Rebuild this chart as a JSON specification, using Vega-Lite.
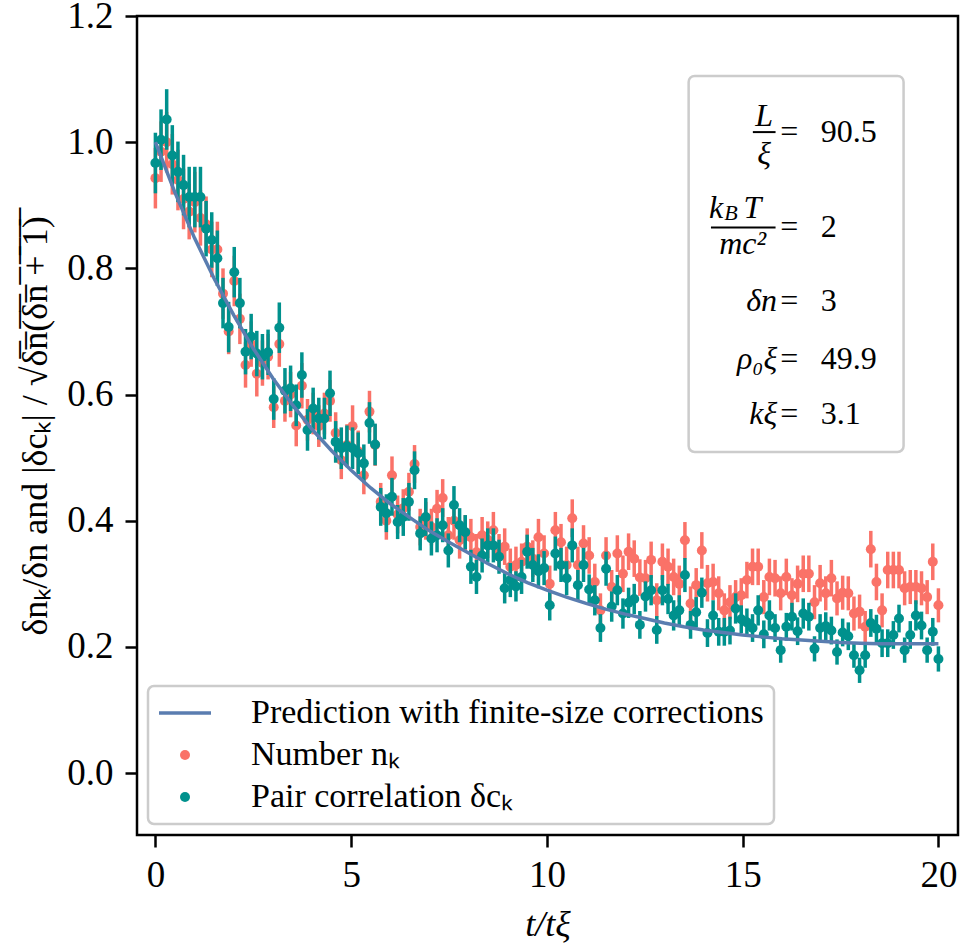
{
  "$schema": "https://vega.github.io/schema/vega-lite/v6.json",
  "width": 821,
  "height": 819,
  "autosize": {"type": "none"},
  "padding": {"left": 137, "top": 16, "right": 6, "bottom": 113},
  "background": "white",
  "config": {
    "view": {"stroke": "black", "strokeWidth": 2.5},
    "font": "Liberation Serif",
    "axis": {"domain": false, "grid": false, "ticks": true, "tickColor": "black", "tickWidth": 2.5, "tickSize": 12, "labelColor": "black", "labelFont": "Liberation Serif", "labelFontSize": 37, "titleColor": "black", "titleFont": "Liberation Serif", "titleFontWeight": "normal"},
    "axisX": {"labelPadding": 10, "titleFontSize": 36, "titleFontStyle": "italic", "titlePadding": 14},
    "axisY": {"labelPadding": 12, "titleFontSize": 36, "titlePadding": 12},
    "legend": {
      "orient": "bottom-left", "offset": 11, "title": null,
      "labelFont": "Liberation Serif", "labelFontSize": 34, "labelColor": "black", "labelLimit": 0,
      "labelOffset": 59, "rowPadding": 8, "padding": 10,
      "strokeColor": "#cccccc", "fillColor": "white", "cornerRadius": 6,
      "symbolSize": 900, "symbolStrokeWidth": 3.5
    }
  },
  "datasets": {
    "obs": [
      {"t":0,"n":0.943,"c":0.967,"en":0.048,"ec":0.048},
      {"t":0.144,"n":0.985,"c":1.004,"en":0.048,"ec":0.048},
      {"t":0.288,"n":1.0,"c":1.036,"en":0.048,"ec":0.048},
      {"t":0.432,"n":0.965,"c":0.979,"en":0.048,"ec":0.048},
      {"t":0.576,"n":0.94,"c":0.953,"en":0.048,"ec":0.048},
      {"t":0.719,"n":0.91,"c":0.932,"en":0.048,"ec":0.048},
      {"t":0.863,"n":0.89,"c":0.913,"en":0.044,"ec":0.048},
      {"t":1.007,"n":0.905,"c":0.913,"en":0.048,"ec":0.048},
      {"t":1.151,"n":0.88,"c":0.913,"en":0.044,"ec":0.048},
      {"t":1.295,"n":0.87,"c":0.863,"en":0.044,"ec":0.044},
      {"t":1.439,"n":0.83,"c":0.845,"en":0.044,"ec":0.044},
      {"t":1.583,"n":0.83,"c":0.816,"en":0.044,"ec":0.044},
      {"t":1.727,"n":0.76,"c":0.745,"en":0.04,"ec":0.04},
      {"t":1.871,"n":0.7,"c":0.707,"en":0.036,"ec":0.04},
      {"t":2.014,"n":0.78,"c":0.794,"en":0.04,"ec":0.04},
      {"t":2.158,"n":0.72,"c":0.745,"en":0.04,"ec":0.04},
      {"t":2.302,"n":0.647,"c":0.668,"en":0.036,"ec":0.036},
      {"t":2.446,"n":0.68,"c":0.692,"en":0.036,"ec":0.036},
      {"t":2.59,"n":0.633,"c":0.665,"en":0.036,"ec":0.036},
      {"t":2.734,"n":0.65,"c":0.66,"en":0.036,"ec":0.036},
      {"t":2.878,"n":0.66,"c":0.667,"en":0.036,"ec":0.036},
      {"t":3.022,"n":0.58,"c":0.593,"en":0.033,"ec":0.033},
      {"t":3.165,"n":0.68,"c":0.706,"en":0.036,"ec":0.04},
      {"t":3.309,"n":0.59,"c":0.606,"en":0.033,"ec":0.036},
      {"t":3.453,"n":0.6,"c":0.61,"en":0.036,"ec":0.036},
      {"t":3.597,"n":0.551,"c":0.583,"en":0.033,"ec":0.033},
      {"t":3.741,"n":0.614,"c":0.631,"en":0.036,"ec":0.036},
      {"t":3.885,"n":0.56,"c":0.544,"en":0.033,"ec":0.033},
      {"t":4.029,"n":0.57,"c":0.578,"en":0.033,"ec":0.033},
      {"t":4.173,"n":0.55,"c":0.562,"en":0.033,"ec":0.033},
      {"t":4.317,"n":0.57,"c":0.562,"en":0.033,"ec":0.033},
      {"t":4.46,"n":0.59,"c":0.602,"en":0.033,"ec":0.036},
      {"t":4.604,"n":0.539,"c":0.525,"en":0.033,"ec":0.033},
      {"t":4.748,"n":0.496,"c":0.515,"en":0.03,"ec":0.033},
      {"t":4.892,"n":0.52,"c":0.518,"en":0.033,"ec":0.033},
      {"t":5.036,"n":0.55,"c":0.515,"en":0.033,"ec":0.033},
      {"t":5.18,"n":0.51,"c":0.507,"en":0.033,"ec":0.033},
      {"t":5.324,"n":0.472,"c":0.491,"en":0.03,"ec":0.03},
      {"t":5.468,"n":0.573,"c":0.555,"en":0.033,"ec":0.033},
      {"t":5.612,"n":0.52,"c":0.521,"en":0.033,"ec":0.033},
      {"t":5.755,"n":0.43,"c":0.422,"en":0.03,"ec":0.03},
      {"t":5.899,"n":0.4,"c":0.412,"en":0.03,"ec":0.03},
      {"t":6.043,"n":0.472,"c":0.438,"en":0.03,"ec":0.03},
      {"t":6.187,"n":0.41,"c":0.398,"en":0.03,"ec":0.027},
      {"t":6.331,"n":0.42,"c":0.406,"en":0.03,"ec":0.03},
      {"t":6.475,"n":0.446,"c":0.43,"en":0.03,"ec":0.03},
      {"t":6.619,"n":0.49,"c":0.48,"en":0.03,"ec":0.03},
      {"t":6.763,"n":0.39,"c":0.38,"en":0.029,"ec":0.027},
      {"t":6.906,"n":0.4,"c":0.406,"en":0.03,"ec":0.03},
      {"t":7.05,"n":0.39,"c":0.372,"en":0.029,"ec":0.027},
      {"t":7.194,"n":0.419,"c":0.377,"en":0.03,"ec":0.027},
      {"t":7.338,"n":0.436,"c":0.393,"en":0.03,"ec":0.027},
      {"t":7.482,"n":0.377,"c":0.353,"en":0.029,"ec":0.027},
      {"t":7.626,"n":0.4,"c":0.425,"en":0.03,"ec":0.03},
      {"t":7.77,"n":0.369,"c":0.393,"en":0.029,"ec":0.027},
      {"t":7.914,"n":0.38,"c":0.382,"en":0.029,"ec":0.027},
      {"t":8.058,"n":0.374,"c":0.327,"en":0.029,"ec":0.027},
      {"t":8.201,"n":0.35,"c":0.311,"en":0.029,"ec":0.027},
      {"t":8.345,"n":0.377,"c":0.345,"en":0.029,"ec":0.027},
      {"t":8.489,"n":0.37,"c":0.361,"en":0.029,"ec":0.027},
      {"t":8.633,"n":0.385,"c":0.361,"en":0.029,"ec":0.027},
      {"t":8.777,"n":0.35,"c":0.343,"en":0.029,"ec":0.027},
      {"t":8.921,"n":0.359,"c":0.293,"en":0.029,"ec":0.024},
      {"t":9.065,"n":0.327,"c":0.306,"en":0.029,"ec":0.027},
      {"t":9.209,"n":0.33,"c":0.296,"en":0.029,"ec":0.024},
      {"t":9.353,"n":0.335,"c":0.311,"en":0.029,"ec":0.027},
      {"t":9.496,"n":0.359,"c":0.351,"en":0.029,"ec":0.027},
      {"t":9.64,"n":0.34,"c":0.33,"en":0.029,"ec":0.027},
      {"t":9.784,"n":0.374,"c":0.32,"en":0.029,"ec":0.027},
      {"t":9.928,"n":0.348,"c":0.325,"en":0.029,"ec":0.027},
      {"t":10.072,"n":0.3,"c":0.266,"en":0.029,"ec":0.024},
      {"t":10.216,"n":0.385,"c":0.348,"en":0.029,"ec":0.027},
      {"t":10.36,"n":0.366,"c":0.33,"en":0.029,"ec":0.027},
      {"t":10.504,"n":0.33,"c":0.309,"en":0.029,"ec":0.027},
      {"t":10.647,"n":0.404,"c":0.361,"en":0.03,"ec":0.027},
      {"t":10.791,"n":0.33,"c":0.298,"en":0.029,"ec":0.024},
      {"t":10.935,"n":0.364,"c":0.33,"en":0.029,"ec":0.027},
      {"t":11.079,"n":0.345,"c":0.291,"en":0.029,"ec":0.024},
      {"t":11.223,"n":0.303,"c":0.274,"en":0.029,"ec":0.024},
      {"t":11.367,"n":0.258,"c":0.23,"en":0.027,"ec":0.022},
      {"t":11.511,"n":0.345,"c":0.324,"en":0.029,"ec":0.027},
      {"t":11.655,"n":0.295,"c":0.264,"en":0.027,"ec":0.024},
      {"t":11.799,"n":0.348,"c":0.29,"en":0.029,"ec":0.024},
      {"t":11.942,"n":0.316,"c":0.253,"en":0.029,"ec":0.024},
      {"t":12.086,"n":0.351,"c":0.27,"en":0.029,"ec":0.024},
      {"t":12.23,"n":0.34,"c":0.276,"en":0.029,"ec":0.024},
      {"t":12.374,"n":0.31,"c":0.235,"en":0.029,"ec":0.022},
      {"t":12.518,"n":0.309,"c":0.28,"en":0.029,"ec":0.024},
      {"t":12.662,"n":0.338,"c":0.29,"en":0.029,"ec":0.024},
      {"t":12.806,"n":0.274,"c":0.227,"en":0.027,"ec":0.022},
      {"t":12.95,"n":0.335,"c":0.29,"en":0.029,"ec":0.024},
      {"t":13.094,"n":0.327,"c":0.276,"en":0.029,"ec":0.024},
      {"t":13.237,"n":0.311,"c":0.25,"en":0.029,"ec":0.024},
      {"t":13.381,"n":0.3,"c":0.258,"en":0.029,"ec":0.024},
      {"t":13.525,"n":0.369,"c":0.314,"en":0.029,"ec":0.027},
      {"t":13.669,"n":0.269,"c":0.235,"en":0.027,"ec":0.022},
      {"t":13.813,"n":0.298,"c":0.255,"en":0.027,"ec":0.024},
      {"t":13.957,"n":0.353,"c":0.286,"en":0.029,"ec":0.024},
      {"t":14.101,"n":0.301,"c":0.222,"en":0.029,"ec":0.022},
      {"t":14.245,"n":0.303,"c":0.25,"en":0.029,"ec":0.024},
      {"t":14.388,"n":0.285,"c":0.224,"en":0.027,"ec":0.022},
      {"t":14.532,"n":0.258,"c":0.224,"en":0.027,"ec":0.022},
      {"t":14.676,"n":0.271,"c":0.226,"en":0.027,"ec":0.022},
      {"t":14.82,"n":0.279,"c":0.261,"en":0.027,"ec":0.024},
      {"t":14.964,"n":0.282,"c":0.244,"en":0.027,"ec":0.022},
      {"t":15.108,"n":0.306,"c":0.239,"en":0.029,"ec":0.022},
      {"t":15.252,"n":0.327,"c":0.23,"en":0.029,"ec":0.022},
      {"t":15.396,"n":0.327,"c":0.258,"en":0.029,"ec":0.024},
      {"t":15.54,"n":0.279,"c":0.22,"en":0.027,"ec":0.022},
      {"t":15.683,"n":0.311,"c":0.25,"en":0.029,"ec":0.024},
      {"t":15.827,"n":0.309,"c":0.23,"en":0.029,"ec":0.022},
      {"t":15.971,"n":0.285,"c":0.195,"en":0.027,"ec":0.02},
      {"t":16.115,"n":0.311,"c":0.232,"en":0.029,"ec":0.022},
      {"t":16.259,"n":0.282,"c":0.248,"en":0.027,"ec":0.022},
      {"t":16.403,"n":0.3,"c":0.225,"en":0.029,"ec":0.022},
      {"t":16.547,"n":0.316,"c":0.253,"en":0.029,"ec":0.024},
      {"t":16.691,"n":0.316,"c":0.248,"en":0.029,"ec":0.022},
      {"t":16.835,"n":0.271,"c":0.197,"en":0.027,"ec":0.02},
      {"t":16.978,"n":0.301,"c":0.23,"en":0.029,"ec":0.022},
      {"t":17.122,"n":0.285,"c":0.233,"en":0.027,"ec":0.022},
      {"t":17.266,"n":0.309,"c":0.226,"en":0.029,"ec":0.022},
      {"t":17.41,"n":0.277,"c":0.192,"en":0.027,"ec":0.02},
      {"t":17.554,"n":0.286,"c":0.223,"en":0.027,"ec":0.022},
      {"t":17.698,"n":0.285,"c":0.217,"en":0.027,"ec":0.022},
      {"t":17.842,"n":0.253,"c":0.187,"en":0.027,"ec":0.02},
      {"t":17.986,"n":0.256,"c":0.163,"en":0.027,"ec":0.02},
      {"t":18.129,"n":0.232,"c":0.187,"en":0.025,"ec":0.02},
      {"t":18.273,"n":0.355,"c":0.238,"en":0.029,"ec":0.022},
      {"t":18.417,"n":0.303,"c":0.229,"en":0.029,"ec":0.022},
      {"t":18.561,"n":0.258,"c":0.206,"en":0.027,"ec":0.022},
      {"t":18.705,"n":0.322,"c":0.206,"en":0.029,"ec":0.022},
      {"t":18.849,"n":0.322,"c":0.219,"en":0.029,"ec":0.022},
      {"t":18.993,"n":0.322,"c":0.245,"en":0.029,"ec":0.022},
      {"t":19.137,"n":0.293,"c":0.195,"en":0.027,"ec":0.02},
      {"t":19.281,"n":0.295,"c":0.219,"en":0.027,"ec":0.022},
      {"t":19.424,"n":0.295,"c":0.25,"en":0.027,"ec":0.024},
      {"t":19.568,"n":0.293,"c":0.234,"en":0.027,"ec":0.022},
      {"t":19.712,"n":0.279,"c":0.195,"en":0.027,"ec":0.02},
      {"t":19.856,"n":0.335,"c":0.224,"en":0.029,"ec":0.022},
      {"t":20.0,"n":0.266,"c":0.181,"en":0.027,"ec":0.02}
    ],
    "pred": [
      {"t":0,"p":1.0},{"t":0.5,"p":0.92},{"t":1,"p":0.848},{"t":1.5,"p":0.784},{"t":2,"p":0.726},
      {"t":2.5,"p":0.673},{"t":3,"p":0.626},{"t":3.5,"p":0.584},{"t":4,"p":0.545},{"t":4.5,"p":0.511},
      {"t":5,"p":0.48},{"t":5.5,"p":0.452},{"t":6,"p":0.427},{"t":6.5,"p":0.405},{"t":7,"p":0.384},
      {"t":7.5,"p":0.366},{"t":8,"p":0.349},{"t":8.5,"p":0.332},{"t":9,"p":0.316},{"t":9.5,"p":0.302},
      {"t":10,"p":0.29},{"t":10.5,"p":0.279},{"t":11,"p":0.269},{"t":11.5,"p":0.26},{"t":12,"p":0.252},
      {"t":12.5,"p":0.245},{"t":13,"p":0.238},{"t":13.5,"p":0.232},{"t":14,"p":0.227},{"t":14.5,"p":0.223},
      {"t":15,"p":0.219},{"t":15.5,"p":0.216},{"t":16,"p":0.213},{"t":16.5,"p":0.211},{"t":17,"p":0.209},
      {"t":17.5,"p":0.207},{"t":18,"p":0.206},{"t":18.5,"p":0.205},{"t":19,"p":0.205},{"t":19.5,"p":0.205},
      {"t":20,"p":0.205}
    ],
    "box": [{"t":13.62,"t2":19.11,"y":1.105,"y2":0.509}],
    "bars": [{"t":15.26,"t2":15.84,"y":1.016},{"t":14.19,"t2":15.84,"y":0.865}],
    "ann": [
      {"kind":"ic","t":15.55,"y":1.042,"text":"L"},
      {"kind":"ic","t":15.55,"y":0.982,"text":"ξ"},
      {"kind":"ul","t":15.96,"y":1.016,"text":"=\u2002\u200990.5"},
      {"kind":"ic","t":14.32,"y":0.896,"text":"k"},
      {"kind":"sc","t":14.7,"y":0.888,"text":"B"},
      {"kind":"ic","t":15.25,"y":0.896,"text":"T"},
      {"kind":"ic","t":15.0,"y":0.838,"text":"mc²"},
      {"kind":"ul","t":15.96,"y":0.865,"text":"=\u2002\u20092"},
      {"kind":"ir","t":15.88,"y":0.749,"text":"δn"},
      {"kind":"ul","t":15.96,"y":0.749,"text":"=\u2002\u20093"},
      {"kind":"ir","t":15.88,"y":0.657,"text":"ρ₀ξ"},
      {"kind":"ul","t":15.96,"y":0.657,"text":"=\u2002\u200949.9"},
      {"kind":"ir","t":15.88,"y":0.57,"text":"kξ"},
      {"kind":"ul","t":15.96,"y":0.57,"text":"=\u2002\u20093.1"}
    ]
  },
  "encoding": {
    "x": {"field": "t", "type": "quantitative", "scale": {"domain": [-0.47, 20.5], "nice": false, "zero": false}, "axis": {"values": [0, 5, 10, 15, 20], "title": "t/tξ"}}
  },
  "layer": [
    {
      "data": {"name": "obs"},
      "mark": {"type": "errorbar", "ticks": false, "thickness": 3.5, "color": "#FA7268"},
      "encoding": {
        "y": {"field": "n", "type": "quantitative", "scale": {"domain": [-0.098, 1.2], "nice": false, "zero": false}, "axis": {"values": [0, 0.2, 0.4, 0.6, 0.8, 1.0, 1.2], "format": ".1f"}, "title": "δnₖ/δn and |δcₖ| / √δ̅n̅(̅δ̅n̅ ̅+̅ ̅1̅)̅"},
        "yError": {"field": "en"}
      }
    },
    {
      "data": {"name": "obs"},
      "mark": {"type": "point", "filled": true, "size": 100, "opacity": 1},
      "encoding": {
        "y": {"field": "n", "type": "quantitative", "title": "δnₖ/δn and |δcₖ| / √δ̅n̅(̅δ̅n̅ ̅+̅ ̅1̅)̅"},
        "color": {
          "datum": "Number nₖ",
          "type": "nominal",
          "scale": {"domain": ["Prediction with finite-size corrections", "Number nₖ", "Pair correlation δcₖ"], "range": ["#5A7DB0", "#FA7268", "#00918D"]},
          "legend": {
            "encode": {
              "legend": {"update": {"strokeWidth": {"value": 2.5}}},
              "symbols": {"update": {
                "shape": {"signal": "datum.index === 0 ? 'stroke' : 'circle'"},
                "size": {"signal": "datum.index === 0 ? 2704 : 100"},
                "strokeWidth": {"signal": "datum.index === 0 ? 3.5 : 0"},
                "stroke": {"signal": "scale('color', datum.value)"},
                "fill": {"signal": "datum.index === 0 ? 'transparent' : scale('color', datum.value)"},
                "opacity": {"value": 1},
                "x": {"value": 27}
              }}
            }
          }
        }
      }
    },
    {
      "data": {"name": "obs"},
      "mark": {"type": "errorbar", "ticks": false, "thickness": 3.5, "color": "#00918D"},
      "encoding": {
        "y": {"field": "c", "type": "quantitative", "title": "δnₖ/δn and |δcₖ| / √δ̅n̅(̅δ̅n̅ ̅+̅ ̅1̅)̅"},
        "yError": {"field": "ec"}
      }
    },
    {
      "data": {"name": "obs"},
      "mark": {"type": "point", "filled": true, "size": 100, "opacity": 1},
      "encoding": {
        "y": {"field": "c", "type": "quantitative", "title": "δnₖ/δn and |δcₖ| / √δ̅n̅(̅δ̅n̅ ̅+̅ ̅1̅)̅"},
        "color": {
          "datum": "Pair correlation δcₖ", "type": "nominal",
          "legend": {
            "encode": {
              "legend": {"update": {"strokeWidth": {"value": 2.5}}},
              "symbols": {"update": {
                "shape": {"signal": "datum.index === 0 ? 'stroke' : 'circle'"},
                "size": {"signal": "datum.index === 0 ? 2704 : 100"},
                "strokeWidth": {"signal": "datum.index === 0 ? 3.5 : 0"},
                "stroke": {"signal": "scale('color', datum.value)"},
                "fill": {"signal": "datum.index === 0 ? 'transparent' : scale('color', datum.value)"},
                "opacity": {"value": 1},
                "x": {"value": 27}
              }}
            }
          }
        }
      }
    },
    {
      "data": {"name": "pred"},
      "mark": {"type": "line", "strokeWidth": 3.5},
      "encoding": {
        "y": {"field": "p", "type": "quantitative", "title": "δnₖ/δn and |δcₖ| / √δ̅n̅(̅δ̅n̅ ̅+̅ ̅1̅)̅"},
        "color": {
          "datum": "Prediction with finite-size corrections", "type": "nominal",
          "legend": {
            "encode": {
              "legend": {"update": {"strokeWidth": {"value": 2.5}}},
              "symbols": {"update": {
                "shape": {"signal": "datum.index === 0 ? 'stroke' : 'circle'"},
                "size": {"signal": "datum.index === 0 ? 2704 : 100"},
                "strokeWidth": {"signal": "datum.index === 0 ? 3.5 : 0"},
                "stroke": {"signal": "scale('color', datum.value)"},
                "fill": {"signal": "datum.index === 0 ? 'transparent' : scale('color', datum.value)"},
                "opacity": {"value": 1},
                "x": {"value": 27}
              }}
            }
          }
        }
      }
    },
    {
      "data": {"name": "box"},
      "mark": {"type": "rect", "fill": "white", "stroke": "#cccccc", "strokeWidth": 2.5, "cornerRadius": 6},
      "encoding": {
        "x2": {"field": "t2"},
        "y": {"field": "y", "type": "quantitative", "title": "δnₖ/δn and |δcₖ| / √δ̅n̅(̅δ̅n̅ ̅+̅ ̅1̅)̅"},
        "y2": {"field": "y2"}
      }
    },
    {
      "data": {"name": "bars"},
      "mark": {"type": "rule", "color": "black", "strokeWidth": 2},
      "encoding": {
        "x2": {"field": "t2"},
        "y": {"field": "y", "type": "quantitative", "title": "δnₖ/δn and |δcₖ| / √δ̅n̅(̅δ̅n̅ ̅+̅ ̅1̅)̅"}
      }
    },
    {
      "data": {"name": "ann"},
      "transform": [{"filter": "datum.kind === 'ic'"}],
      "mark": {"type": "text", "font": "Liberation Serif", "fontStyle": "italic", "fontSize": 32, "align": "center", "baseline": "middle", "color": "black"},
      "encoding": {"y": {"field": "y", "type": "quantitative", "title": "δnₖ/δn and |δcₖ| / √δ̅n̅(̅δ̅n̅ ̅+̅ ̅1̅)̅"}, "text": {"field": "text"}}
    },
    {
      "data": {"name": "ann"},
      "transform": [{"filter": "datum.kind === 'sc'"}],
      "mark": {"type": "text", "font": "Liberation Serif", "fontStyle": "italic", "fontSize": 22, "align": "center", "baseline": "middle", "color": "black"},
      "encoding": {"y": {"field": "y", "type": "quantitative", "title": "δnₖ/δn and |δcₖ| / √δ̅n̅(̅δ̅n̅ ̅+̅ ̅1̅)̅"}, "text": {"field": "text"}}
    },
    {
      "data": {"name": "ann"},
      "transform": [{"filter": "datum.kind === 'ir'"}],
      "mark": {"type": "text", "font": "Liberation Serif", "fontStyle": "italic", "fontSize": 32, "align": "right", "baseline": "middle", "color": "black"},
      "encoding": {"y": {"field": "y", "type": "quantitative", "title": "δnₖ/δn and |δcₖ| / √δ̅n̅(̅δ̅n̅ ̅+̅ ̅1̅)̅"}, "text": {"field": "text"}}
    },
    {
      "data": {"name": "ann"},
      "transform": [{"filter": "datum.kind === 'ul'"}],
      "mark": {"type": "text", "font": "Liberation Serif", "fontSize": 32, "align": "left", "baseline": "middle", "color": "black"},
      "encoding": {"y": {"field": "y", "type": "quantitative", "title": "δnₖ/δn and |δcₖ| / √δ̅n̅(̅δ̅n̅ ̅+̅ ̅1̅)̅"}, "text": {"field": "text"}}
    }
  ]
}
